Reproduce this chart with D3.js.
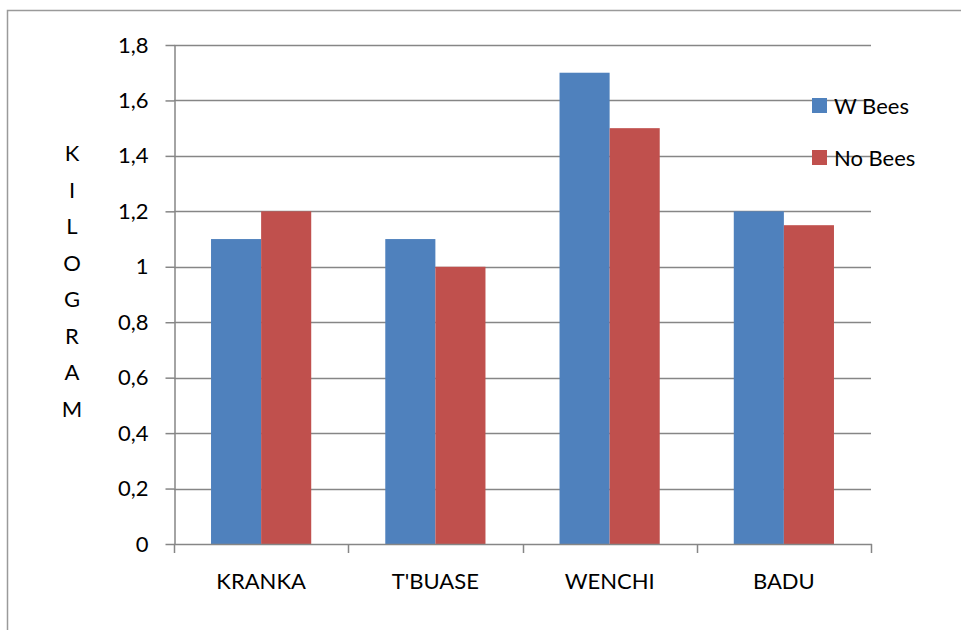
<!DOCTYPE html>
<html>
<head>
<meta charset="utf-8">
<script src="https://cdn.jsdelivr.net/npm/d3@7"></script>
<style>
  html, body { margin: 0; padding: 0; background: #fff; }
  svg { display: block; font-family: Lato, "Open Sans", sans-serif; }
</style>
</head>
<body>
<svg id="chart" width="961" height="630"></svg>
<script>
// Harvest weight per site, with and without bees (kg)
const categories = ["KRANKA", "T'BUASE", "WENCHI", "BADU"];
const seriesNames = ["W Bees", "No Bees"];
const wBees = [1.1, 1.1, 1.7, 1.2];
const noBees = [1.2, 1.0, 1.5, 1.15];
const yTicks = [0, 0.2, 0.4, 0.6, 0.8, 1, 1.2, 1.4, 1.6, 1.8];
const yTitle = ["K", "I", "L", "O", "G", "R", "A", "M"];

const colors = ["#4F81BD", "#C0504D"];
const gridColor = "#868686";
const fontSize = 22;

const svg = d3.select("#chart");
const plot = { left: 174, right: 871, top: 45, bottom: 544 };

// Chart frame
svg.append("rect")
  .attr("x", 7.5).attr("y", 10.5)
  .attr("width", 1000).attr("height", 700)
  .attr("fill", "none").attr("stroke", "#9a9a9a").attr("stroke-width", 1.5);

const x = d3.scaleBand()
  .domain(categories)
  .range([plot.left, plot.right])
  .paddingInner(0.425)
  .paddingOuter(0.2125);

const xs = d3.scaleBand()
  .domain(seriesNames)
  .range([0, x.bandwidth()]);

const y = d3.scaleLinear().domain([0, 1.8]).range([plot.bottom, plot.top]);

const fmt = d => d3.format("")(d).replace(".", ",");

// Gridlines
svg.append("g")
  .selectAll("line")
  .data(yTicks.filter(d => d > 0))
  .join("line")
  .attr("x1", plot.left).attr("x2", plot.right)
  .attr("y1", d => Math.round(y(d)) + 0.5).attr("y2", d => Math.round(y(d)) + 0.5)
  .attr("stroke", gridColor).attr("stroke-width", 1.5);

// Bars
const data = categories.map((c, i) => ({ cat: c, vals: [wBees[i], noBees[i]] }));
svg.append("g")
  .selectAll("g")
  .data(data)
  .join("g")
  .attr("transform", d => `translate(${x(d.cat)},0)`)
  .selectAll("rect")
  .data(d => d.vals.map((v, j) => ({ name: seriesNames[j], v, j })))
  .join("rect")
  .attr("x", d => xs(d.name))
  .attr("width", xs.bandwidth())
  .attr("y", d => y(d.v))
  .attr("height", d => y(0) - y(d.v))
  .attr("fill", d => colors[d.j]);

// Y axis
const yAxis = d3.axisLeft(y)
  .tickValues(yTicks)
  .tickFormat(fmt)
  .tickSizeInner(9)
  .tickSizeOuter(0)
  .tickPadding(17);
const gy = svg.append("g")
  .attr("transform", `translate(${plot.left + 0.5},0)`)
  .call(yAxis);
gy.select(".domain").attr("stroke", gridColor).attr("stroke-width", 1.5);
gy.selectAll(".tick line").attr("stroke", gridColor).attr("stroke-width", 1.5);
gy.selectAll(".tick text")
  .attr("fill", "#000").attr("font-size", fontSize).attr("font-family", "Lato, sans-serif");

// X axis: ticks at category boundaries
const boundaries = [plot.left].concat(categories.map(c => x(c) + x.bandwidth() + x.step() * x.paddingInner() / 2));
const gx = svg.append("g");
gx.append("line")
  .attr("x1", plot.left).attr("x2", plot.right + 1)
  .attr("y1", plot.bottom + 0.5).attr("y2", plot.bottom + 0.5)
  .attr("stroke", gridColor).attr("stroke-width", 1.5);
gx.selectAll("line.tk")
  .data(boundaries)
  .join("line")
  .attr("class", "tk")
  .attr("x1", d => Math.round(d) + 0.5).attr("x2", d => Math.round(d) + 0.5)
  .attr("y1", plot.bottom).attr("y2", plot.bottom + 9)
  .attr("stroke", gridColor).attr("stroke-width", 1.5);
gx.selectAll("text")
  .data(categories)
  .join("text")
  .attr("x", d => x(d) + x.bandwidth() / 2)
  .attr("y", 589)
  .attr("text-anchor", "middle")
  .attr("font-size", fontSize)
  .attr("fill", "#000")
  .text(d => d);

// Vertical, letter-stacked axis title
svg.append("g")
  .selectAll("text")
  .data(yTitle)
  .join("text")
  .attr("x", 72)
  .attr("y", (d, i) => 161 + i * 36.5)
  .attr("text-anchor", "middle")
  .attr("font-size", fontSize)
  .attr("fill", "#000")
  .text(d => d);

// Legend
const legend = svg.append("g")
  .selectAll("g")
  .data(seriesNames)
  .join("g")
  .attr("transform", (d, i) => `translate(812,${98 + i * 52})`);
legend.append("rect")
  .attr("width", 15).attr("height", 15)
  .attr("fill", (d, i) => colors[i]);
legend.append("text")
  .attr("x", 22).attr("y", 16)
  .attr("font-size", fontSize)
  .attr("fill", "#000")
  .text(d => d);
</script>
</body>
</html>
